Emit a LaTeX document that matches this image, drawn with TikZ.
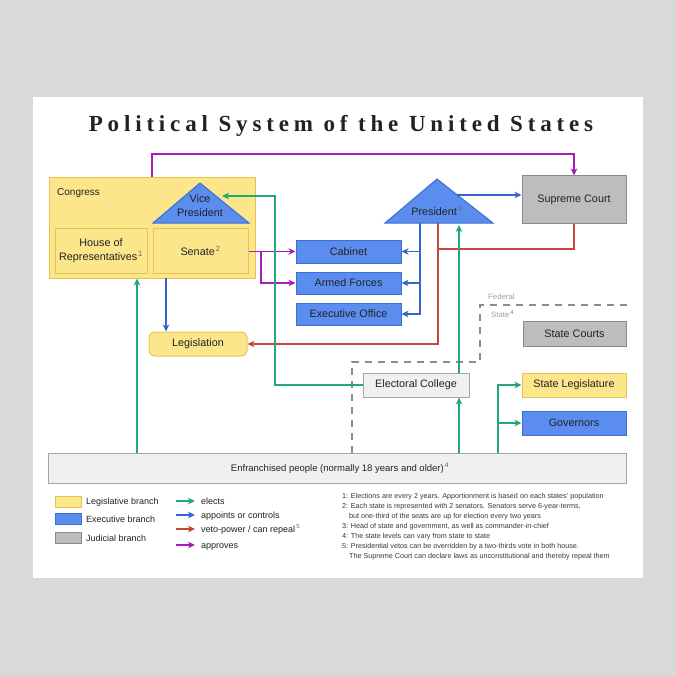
\documentclass[tikz,border=0pt]{standalone}
\usepackage{fontspec}
\setmainfont{Liberation Sans}
\newfontfamily\titlefont[LetterSpace=21]{Liberation Serif}
\usetikzlibrary{arrows.meta}
\definecolor{yfill}{HTML}{FCE68C}
\definecolor{ydraw}{HTML}{E8C44E}
\definecolor{bfill}{HTML}{5B8DEF}
\definecolor{bdraw}{HTML}{3D6FD2}
\definecolor{gfill}{HTML}{BDBDBD}
\definecolor{gdraw}{HTML}{8A8A8A}
\definecolor{lfill}{HTML}{F0F0F0}
\definecolor{ldraw}{HTML}{A6A6A6}
\definecolor{txtc}{HTML}{222222}
\definecolor{cgreen}{HTML}{25A57A}
\definecolor{cblue}{HTML}{3566D0}
\definecolor{cred}{HTML}{C4463A}
\definecolor{cmag}{HTML}{A81CB8}
\definecolor{bgc}{HTML}{D9D9D9}
\definecolor{dashc}{HTML}{8C8C8C}
\newcommand\mysup[1]{\kern1pt\textsuperscript{\color{txtc!70}#1}}
\tikzset{
  txt/.style={text=txtc, font=\fontsize{10.8}{13.5}\selectfont, align=center, inner sep=0pt},
  sz/.style 2 args={minimum width=#1pt, minimum height=#2pt},
  ybox/.style={txt, draw=ydraw, fill=yfill, line width=1pt},
  bbox/.style={txt, draw=bdraw, fill=bfill, line width=1pt},
  gbox/.style={txt, draw=gdraw, fill=gfill, line width=1pt},
  lbox/.style={txt, draw=ldraw, fill=lfill, line width=1pt},
  con/.style={line width=1.2pt, -{Stealth[length=7pt,width=6.5pt,inset=2pt]}},
  elect/.style={con, draw=cgreen},
  appt/.style={con, draw=cblue},
  veto/.style={con, draw=cred},
  appr/.style={con, draw=cmag},
  lnk/.style={line width=1.2pt},
  bound/.style={draw=dashc, line width=1.2pt, dash pattern=on 7pt off 6pt},
  legtxt/.style={text=txtc, font=\fontsize{9}{10}\selectfont, anchor=base west, inner sep=0pt},
}
\begin{document}
\begin{tikzpicture}[x=1pt,y=-1pt]
\useasboundingbox (0,0) rectangle (676,676);
\fill[bgc] (0,0) rectangle (676,676);
\fill[white] (33,97) rectangle (643,578);

% title
\node[text=txtc, font=\titlefont\bfseries\fontsize{23}{26}\selectfont] (title) at (341,126) {Political System of the United States};

% Congress
\node[ybox, sz={206}{100}] (congress) at (152,228) {};
\node[txt, anchor=west, font=\fontsize{10}{11}\selectfont] (congl) at (57,193) {Congress};
\node[ybox, sz={92}{45}] (house) at (101,250.5) {House of\\Representatives\mysup{1}};
\node[ybox, sz={95}{45}] (senate) at (200.5,250.5) {Senate\mysup{2}};
\draw[bdraw, fill=bfill, line width=1pt] (200,183) -- (249,223) -- (153,223) -- cycle;
\node[txt] (vp) at (200,205.5) {Vice\\President};

% President
\draw[bdraw, fill=bfill, line width=1pt] (437,179) -- (493,223) -- (385,223) -- cycle;
\node[txt] (pres) at (437,211) {President\mysup{3}};

% boxes
\node[gbox, sz={104}{47}] (supreme) at (574,199.5) {Supreme Court};
\node[bbox, sz={105}{23}] (cabinet) at (348.5,251.5) {Cabinet};
\node[bbox, sz={105}{22}] (armed) at (348.5,283) {Armed Forces};
\node[bbox, sz={105}{22}] (execoff) at (348.5,314) {Executive Office};
\node[ybox, sz={98}{24}, rounded corners=6pt] (legis) at (198,344) {Legislation};
\node[lbox, sz={106}{24}] (electoral) at (416,385) {Electoral College};
\node[gbox, sz={103}{25}] (scourts) at (574.5,333.5) {State Courts};
\node[ybox, sz={104}{24}] (slegis) at (574,385) {State Legislature};
\node[bbox, sz={104}{24}] (gov) at (574,423) {Governors};
\node[lbox, sz={578}{30}, font=\fontsize{9.5}{11}\selectfont] (people) at (337,468) {\hspace*{6pt}Enfranchised people (normally 18 years and older)\mysup{4}};

% federal / state boundary
\coordinate (bd1) at (627,305);
\coordinate (bd2) at (480,305);
\coordinate (bd3) at (480,362);
\coordinate (bd4) at (352,362);
\draw[bound] (bd1) -- (bd2) -- (bd3) -- (bd4) -- (bd4 |- people.north);
\node[anchor=west, inner sep=0pt, text=gdraw!80, font=\fontsize{7.8}{9}\selectfont] (fed) at (488,297) {Federal};
\node[anchor=west, inner sep=0pt, text=gdraw!80, font=\fontsize{7.8}{9}\selectfont] (stl) at (491,314) {State\mysup{4}};

% approves (magenta)
\coordinate (m1) at (152,154);
\draw[appr] (congress.north) -- (m1) -| (supreme.north);
\draw[appr] (senate.east |- cabinet.west) -- (cabinet.west);
\coordinate (sbr) at (261,251.5);
\draw[appr] (sbr) |- (armed.west);

% appoints (blue)
\coordinate (pb) at (420,223);
\draw[appt] (pb) |- (execoff.east);
\draw[appt] (pb |- cabinet.east) -- (cabinet.east);
\draw[appt] (pb |- armed.east) -- (armed.east);
\coordinate (ps) at (457,195);
\draw[appt] (ps) -- (supreme.west |- ps);
\coordinate (cl) at (166,278);
\draw[appt] (cl) -- (cl |- legis.north);

% veto (red)
\coordinate (pv) at (438,223);
\coordinate (sv) at (438,249);
\draw[lnk, draw=cred] (supreme.south) |- (sv);
\draw[veto] (pv) |- (legis.east);

% elects (green)
\coordinate (eh) at (137,453);
\draw[elect] (eh) -- (eh |- congress.south);
\coordinate (ee) at (459,453);
\draw[elect] (ee) -- (ee |- electoral.south);
\coordinate (ep) at (459,373);
\draw[elect] (ep) -- (459,225);
\coordinate (ev1) at (275,385);
\coordinate (ev2) at (275,196);
\coordinate (vpt) at (222,196);
\draw[elect] (electoral.west) -- (ev1) -- (ev2) -- (vpt);
\coordinate (es) at (498,453);
\draw[elect] (es) |- (slegis.west);
\draw[elect] (es |- gov.west) -- (gov.west);

% legend
\node[ybox, sz={26}{11}] (lg1) at (68,501.5) {};
\node[bbox, sz={26}{11}] (lg2) at (68,519) {};
\node[gbox, sz={26}{11}] (lg3) at (68,538) {};
\node[legtxt] (lt1) at (86,504.5) {Legislative branch};
\node[legtxt] (lt2) at (86,522.5) {Executive branch};
\node[legtxt] (lt3) at (86,541.5) {Judicial branch};
\coordinate (la1) at (176,501); \coordinate (lb1) at (195,501);
\coordinate (la2) at (176,515); \coordinate (lb2) at (195,515);
\coordinate (la3) at (176,529); \coordinate (lb3) at (195,529);
\coordinate (la4) at (176,545); \coordinate (lb4) at (195,545);
\draw[elect] (la1) -- (lb1);
\draw[appt] (la2) -- (lb2);
\draw[veto] (la3) -- (lb3);
\draw[appr] (la4) -- (lb4);
\node[legtxt] (la) at (201,504.5) {elects};
\node[legtxt] (lb) at (201,518) {appoints or controls};
\node[legtxt] (lc) at (201,532.5) {veto-power / can repeal\mysup{5}};
\node[legtxt] (ld) at (201,548.5) {approves};

% footnotes
\node[anchor=north west, inner sep=0pt, align=left, text=txtc!90, font=\fontsize{7.2}{10}\selectfont] (notes) at (342,493) {1: Elections are every 2 years. Apportionment is based on each states' population\\
2: Each state is represented with 2 senators. Senators serve 6-year-terms,\\
\hspace*{7pt}but one-third of the seats are up for election every two years\\
3: Head of state and government, as well as commander-in-chief\\
4: The state levels can vary from state to state\\
5: Presidential vetos can be overridden by a two-thirds vote in both house.\\
\hspace*{7pt}The Supreme Court can declare laws as unconstitutional and thereby repeal them};
\end{tikzpicture}
\end{document}
